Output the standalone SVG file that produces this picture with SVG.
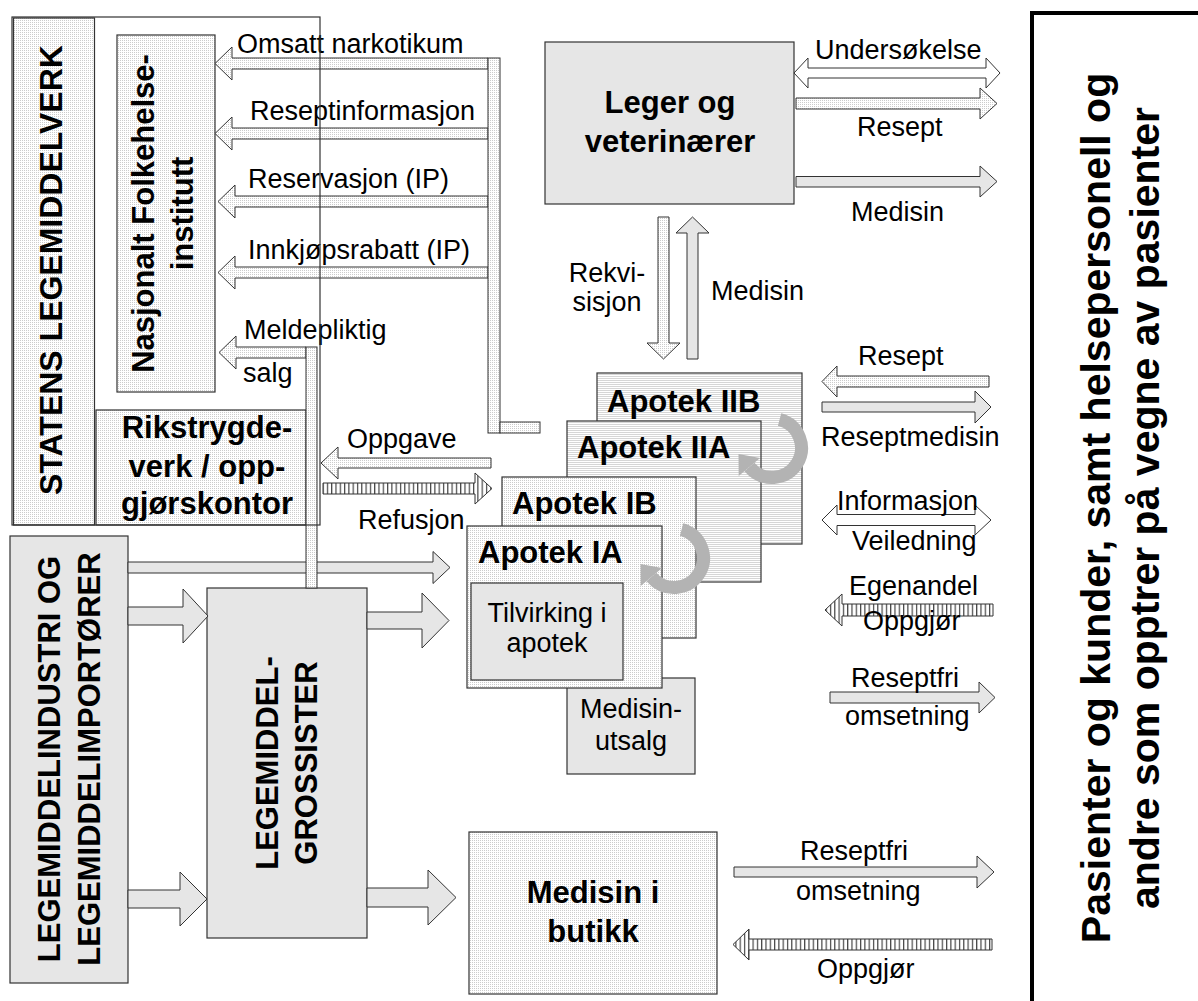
<svg xmlns="http://www.w3.org/2000/svg" xmlns:xlink="http://www.w3.org/1999/xlink" width="1198" height="1001" viewBox="0 0 1198 1001">
<style>
.bx{stroke:#333;stroke-width:1.2}
.ar{stroke:#333;stroke-width:1}
.t{font-family:"Liberation Sans",Arial,Helvetica,sans-serif;font-size:27px;fill:#000}
.b{font-family:"Liberation Sans",Arial,Helvetica,sans-serif;font-size:31px;font-weight:bold;fill:#000}
.m{text-anchor:middle}
.g{fill:#e6e6e6}
.w{fill:#fff}
.d{fill:url(#dots)}
.d2{fill:url(#dots2)}
.h{fill:url(#hatch)}
</style>
<defs>
<pattern id="dots" width="2" height="2" patternUnits="userSpaceOnUse"><rect width="2" height="2" fill="#fff"/><rect width="1" height="1" fill="#cccccc"/></pattern>
<pattern id="dots2" width="2" height="2" patternUnits="userSpaceOnUse"><rect width="2" height="2" fill="#fff"/><rect width="2" height="1" fill="#d6d6d6"/></pattern>
<pattern id="hatch" width="4.3" height="4" patternUnits="userSpaceOnUse"><rect width="4.3" height="4" fill="#fff"/><rect width="1.2" height="4" fill="#444"/></pattern>
<g id="curl">
<path d="M 7.6 -28.5 A 29.5 29.5 0 1 1 -22.6 19" fill="none" stroke="#b3b3b3" stroke-width="13"/>
<polygon points="-33.3,28 -11.9,10 -33.5,6" fill="#b3b3b3"/>
</g>
</defs>
<rect width="1198" height="1001" fill="#fff"/>

<g id="pasienter">
<rect x="1032" y="13" width="200" height="1000" fill="#fff" stroke="#000" stroke-width="4"/>
<text class="b m" style="font-size:41px" transform="translate(1110,508) rotate(-90)"><tspan x="0" y="0">Pasienter og kunder, samt helsepersonell og</tspan><tspan x="0" dy="49">andre som opptrer på vegne av pasienter</tspan></text>
</g>

<g id="statens-legemiddelverk">
<rect x="13.5" y="18" width="81" height="507" class="bx d"/>
<text class="b m" style="font-size:32px" transform="translate(62,270) rotate(-90)">STATENS LEGEMIDDELVERK</text>
</g>

<g id="nasjonalt-folkehelseinstitutt">
<rect x="117" y="35" width="98" height="357" class="bx d"/>
<text class="b m" transform="translate(154,213.5) rotate(-90)"><tspan x="0" y="0">Nasjonalt Folkehelse-</tspan><tspan x="0" dy="39">institutt</tspan></text>
</g>

<g id="rikstrygdeverk">
<rect x="96" y="410" width="210" height="115" class="bx d"/>
<text class="b m"><tspan x="207" y="438">Rikstrygde-</tspan><tspan x="207" y="477">verk / opp-</tspan><tspan x="207" y="514">gjørskontor</tspan></text>
</g>

<g id="legemiddelindustri">
<rect x="10" y="536" width="118" height="447" class="bx g"/>
<text class="b m" transform="translate(60,759) rotate(-90)"><tspan x="0" y="0">LEGEMIDDELINDUSTRI OG</tspan><tspan x="0" dy="40">LEGEMIDDELIMPORTØRER</tspan></text>
</g>

<g id="grossister">
<rect x="207" y="588" width="160" height="350" class="bx g"/>
<text class="b m" transform="translate(278,763) rotate(-90)"><tspan x="0" y="0">LEGEMIDDEL-</tspan><tspan x="0" dy="39">GROSSISTER</tspan></text>
</g>

<g id="leger">
<rect x="545" y="42" width="249" height="162" class="bx g"/>
<text class="b m"><tspan x="670" y="113">Leger og</tspan><tspan x="670" y="152">veterinærer</tspan></text>
</g>

<g id="apotek-iib">
<rect x="597" y="373" width="205" height="171" class="bx d2"/>
<text class="b" x="607" y="412">Apotek IIB</text>
</g>
<g id="apotek-iia">
<rect x="567" y="421" width="194" height="161" class="bx d2"/>
<text class="b" x="577" y="458">Apotek IIA</text>
</g>
<g id="apotek-ib">
<rect x="502" y="477" width="194" height="161" class="bx d"/>
<text class="b" x="512" y="514">Apotek IB</text>
</g>
<g id="medisinutsalg">
<rect x="567" y="678" width="128" height="96" class="bx g"/>
<text class="t m"><tspan x="631" y="718">Medisin-</tspan><tspan x="631" y="750">utsalg</tspan></text>
</g>
<g id="apotek-ia">
<rect x="467" y="526" width="195" height="162" class="bx d"/>
<text class="b" x="478" y="563">Apotek IA</text>
</g>
<g id="tilvirking">
<rect x="471" y="583" width="152" height="97" class="bx g"/>
<text class="t m"><tspan x="547" y="622">Tilvirking i</tspan><tspan x="547" y="652">apotek</tspan></text>
</g>

<g id="butikk">
<rect x="469" y="832" width="248" height="162" class="bx d"/>
<text class="b m"><tspan x="593" y="903">Medisin i</tspan><tspan x="593" y="942">butikk</tspan></text>
</g>

<g id="connectors">
<!-- to Nasjonalt -->
<polygon class="ar d" points="215,63.5 232,47 232,58 488,58 488,69 232,69 232,80"/>
<polygon class="ar d" points="215,133.5 232,117 232,128 488,128 488,139 232,139 232,150"/>
<polygon class="ar d" points="218,201.5 235,185 235,196 488,196 488,207 235,207 235,218"/>
<polygon class="ar d" points="218,272.5 235,256 235,267 488,267 488,278 235,278 235,289"/>
<rect class="ar d" x="488" y="58" width="12" height="375"/>
<rect class="ar d" x="500" y="422" width="40" height="11"/>
<!-- from industri -->
<polygon class="ar g" points="128,562 433,562 433,551.5 450,567.5 433,583.5 433,573 128,573"/>
<polygon class="ar g" points="128,607 183,607 183,589 208,616 183,643 183,625 128,625"/>
<polygon class="ar g" points="128,890 180,890 180,872 207,899 180,926 180,908 128,908"/>
<!-- meldepliktig -->
<polygon class="ar d" points="219,352.5 236,336 236,347 306,347 306,358 236,358 236,369"/>
<rect class="ar d" x="306" y="347" width="11" height="241"/>
<!-- oppgave / refusjon -->
<polygon class="ar d" points="321,463 338,447 338,458 491,458 491,468 338,468 338,479"/>
<polygon class="ar h" points="323,483 475,483 475,473 492,488.5 475,504 475,494 323,494"/>
<!-- grossister -->
<polygon class="ar g" points="367,612 422,612 422,593 449,620.5 422,648 422,629 367,629"/>
<polygon class="ar g" points="367,888 428,888 428,870 456,897.5 428,925 428,907 367,907"/>
<!-- leger -->
<polygon class="ar w" points="794,73 808,58 808,68 986,68 986,58 1000,73 986,88 986,78 808,78 808,88"/>
<polygon class="ar d" points="796,98 980,98 980,88 997,103.5 980,119 980,109 796,109"/>
<polygon class="ar g" points="796,176.5 980,176.5 980,166 997,181.5 980,197 980,187 796,187"/>
<polygon class="ar d" points="658,217 669,217 669,343 680,343 663.5,359 647,343 658,343"/>
<polygon class="ar g" points="687,359 698,359 698,233 709,233 692.5,217 676,233 687,233"/>
<!-- patients / apotek -->
<polygon class="ar d" points="822,381.5 837,366 837,376 989,376 989,387 837,387 837,397"/>
<polygon class="ar g" points="822,402 975,402 975,391 991,407 975,423 975,412 822,412"/>
<polygon class="ar w" points="822,520 837,505 837,514.5 975,514.5 975,505 991,520 975,535 975,525.5 837,525.5 837,535"/>
<polygon class="ar h" points="825,610 842,594 842,604 993,604 993,616 842,616 842,626"/>
<polygon class="ar g" points="830,692 979,692 979,682 995,697.5 979,713 979,703 830,703"/>
<!-- butikk -->
<polygon class="ar g" points="734,867 977,867 977,856 994,872 977,888 977,877 734,877"/>
<polygon class="ar h" points="733,944.5 749,929 749,939 992,939 992,950 749,950 749,960"/>
<!-- self loops -->
<use xlink:href="#curl" transform="translate(772,448)"/>
<use xlink:href="#curl" transform="translate(674,558)"/>
</g>

<g id="labels">
<text class="t" x="237" y="53">Omsatt narkotikum</text>
<text class="t" x="250" y="120">Reseptinformasjon</text>
<text class="t" x="248" y="188">Reservasjon (IP)</text>
<text class="t" x="248" y="259">Innkjøpsrabatt (IP)</text>
<text class="t" x="244" y="339">Meldepliktig</text>
<text class="t" x="243" y="382">salg</text>
<text class="t" x="347" y="448">Oppgave</text>
<text class="t" x="358" y="529">Refusjon</text>
<text class="t" x="815" y="59">Undersøkelse</text>
<text class="t" x="857" y="136">Resept</text>
<text class="t" x="851" y="221">Medisin</text>
<text class="t m"><tspan x="607" y="282">Rekvi-</tspan><tspan x="607" y="311">sisjon</tspan></text>
<text class="t" x="711" y="300">Medisin</text>
<text class="t" x="858" y="365">Resept</text>
<text class="t" x="821" y="446">Reseptmedisin</text>
<text class="t" x="837" y="510">Informasjon</text>
<text class="t" x="852" y="550">Veiledning</text>
<text class="t" x="849" y="595">Egenandel</text>
<text class="t" x="863" y="630">Oppgjør</text>
<text class="t" x="851" y="687">Reseptfri</text>
<text class="t" x="845" y="725">omsetning</text>
<text class="t" x="800" y="860">Reseptfri</text>
<text class="t" x="796" y="900">omsetning</text>
<text class="t" x="817" y="978">Oppgjør</text>
</g>

<g id="statens-frame">
<rect x="12" y="17" width="308" height="508" fill="none" class="bx"/>
</g>
</svg>
